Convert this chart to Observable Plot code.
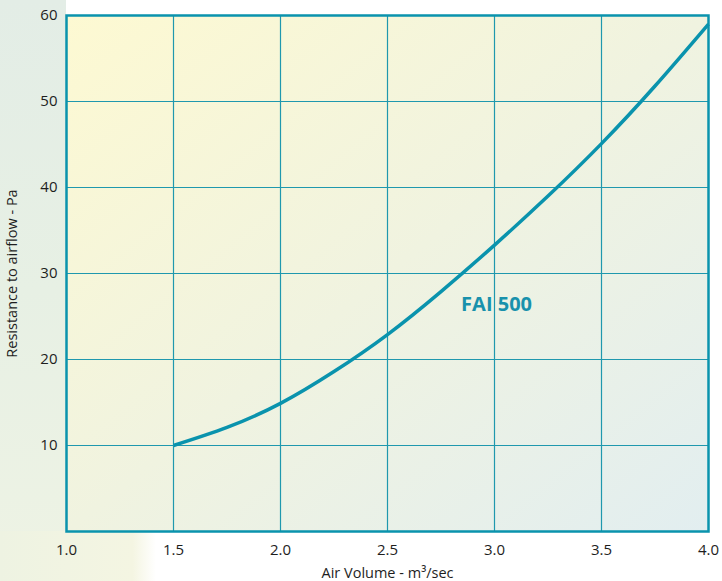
<!DOCTYPE html>
<html>
<head>
<meta charset="utf-8">
<script src="https://cdn.jsdelivr.net/npm/d3@7"></script>
<script src="https://cdn.jsdelivr.net/npm/@observablehq/plot@0.6"></script>
<style>
  html, body { margin: 0; padding: 0; background: #ffffff; }
  #wrap { position: relative; width: 722px; height: 581px; overflow: hidden; }
  #bgLeft { position: absolute; left: 0; top: 0; width: 66px; height: 581px;
    background: linear-gradient(to bottom, #e3ede6 0%, #e7f0e4 50%, #eef3e4 100%); }
  #bgBottom { position: absolute; left: 0; top: 531px; width: 156px; height: 50px;
    background: linear-gradient(to right, #eef3e2 0%, #f4f5e2 85%, #ffffff 100%); }
  #chart { position: absolute; left: 0; top: 0; }
</style>
</head>
<body>
<div id="wrap"><div id="bgLeft"></div><div id="bgBottom"></div><div id="chart"></div></div>
<script>
const airVolume = [1.5, 1.75, 2.0, 2.25, 2.5, 2.75, 3.0, 3.25, 3.5, 3.75, 4.0];
const resistance = [10, 12.1, 14.9, 18.6, 22.9, 27.9, 33.3, 39.0, 45.1, 51.8, 59.0];
const xTicks = [1.0, 1.5, 2.0, 2.5, 3.0, 3.5, 4.0];
const yTicks = [10, 20, 30, 40, 50, 60];
const xGrid = [1.5, 2.0, 2.5, 3.0, 3.5];
const yGrid = [10, 20, 30, 40, 50];
const seriesName = "FAI 500";
const labelX = [2.844];
const labelY = [26.4];

const curve = airVolume.map((x, i) => ({x, y: resistance[i]}));
const teal = "#0a93ad";
const font = "'Open Sans', 'Liberation Sans', sans-serif";

const plot = Plot.plot({
  width: 722,
  height: 581,
  marginLeft: 66,
  marginRight: 14,
  marginTop: 15,
  marginBottom: 50,
  style: {fontFamily: font, fontSize: "15px", color: "#1e1e1e", background: "transparent", overflow: "visible"},
  x: {domain: [1, 4]},
  y: {domain: [0, 60]},
  marks: [
    Plot.frame({fill: "url(#plotbg)", stroke: "none"}),
    Plot.ruleX(xGrid, {stroke: "#1f98ae", strokeWidth: 1.2}),
    Plot.ruleY(yGrid, {stroke: "#1f98ae", strokeWidth: 1.2}),
    Plot.line(curve, {x: "x", y: "y", curve: "natural", stroke: teal, strokeWidth: 3.5, strokeLinecap: "butt"}),
    Plot.text([seriesName], {x: labelX, y: labelY, text: d => d, textAnchor: "start",
      fill: "#1891ac", fontSize: 20, fontWeight: "bold", fontFamily: "'Open Sans', sans-serif"}),
    Plot.frame({stroke: "#0a93ad", strokeWidth: 2.5}),
    Plot.axisX(xTicks, {tickSize: 0, tickPadding: 13, tickFormat: d3.format(".1f"), fontSize: 15,
      label: "Air Volume - m³/sec", labelAnchor: "center", labelArrow: "none", labelOffset: 46}),
    Plot.axisY(yTicks, {tickSize: 0, tickPadding: 9, fontSize: 15,
      label: "Resistance to airflow - Pa", labelAnchor: "center", labelArrow: "none", labelOffset: 60})
  ]
});

const svg = d3.select(plot);
const defs = svg.insert("defs", ":first-child");
const g = defs.append("linearGradient").attr("id", "plotbg")
  .attr("x1", "0%").attr("y1", "0%").attr("x2", "100%").attr("y2", "100%");
g.append("stop").attr("offset", "0%").attr("stop-color", "#fdf9d2");
g.append("stop").attr("offset", "50%").attr("stop-color", "#f0f3e0");
g.append("stop").attr("offset", "100%").attr("stop-color", "#e2eef0");
svg.selectAll("[aria-label='x-axis label'] text, [aria-label='y-axis label'] text").attr("font-size", 14.5);

document.getElementById("chart").appendChild(plot);
</script>
</body>
</html>
